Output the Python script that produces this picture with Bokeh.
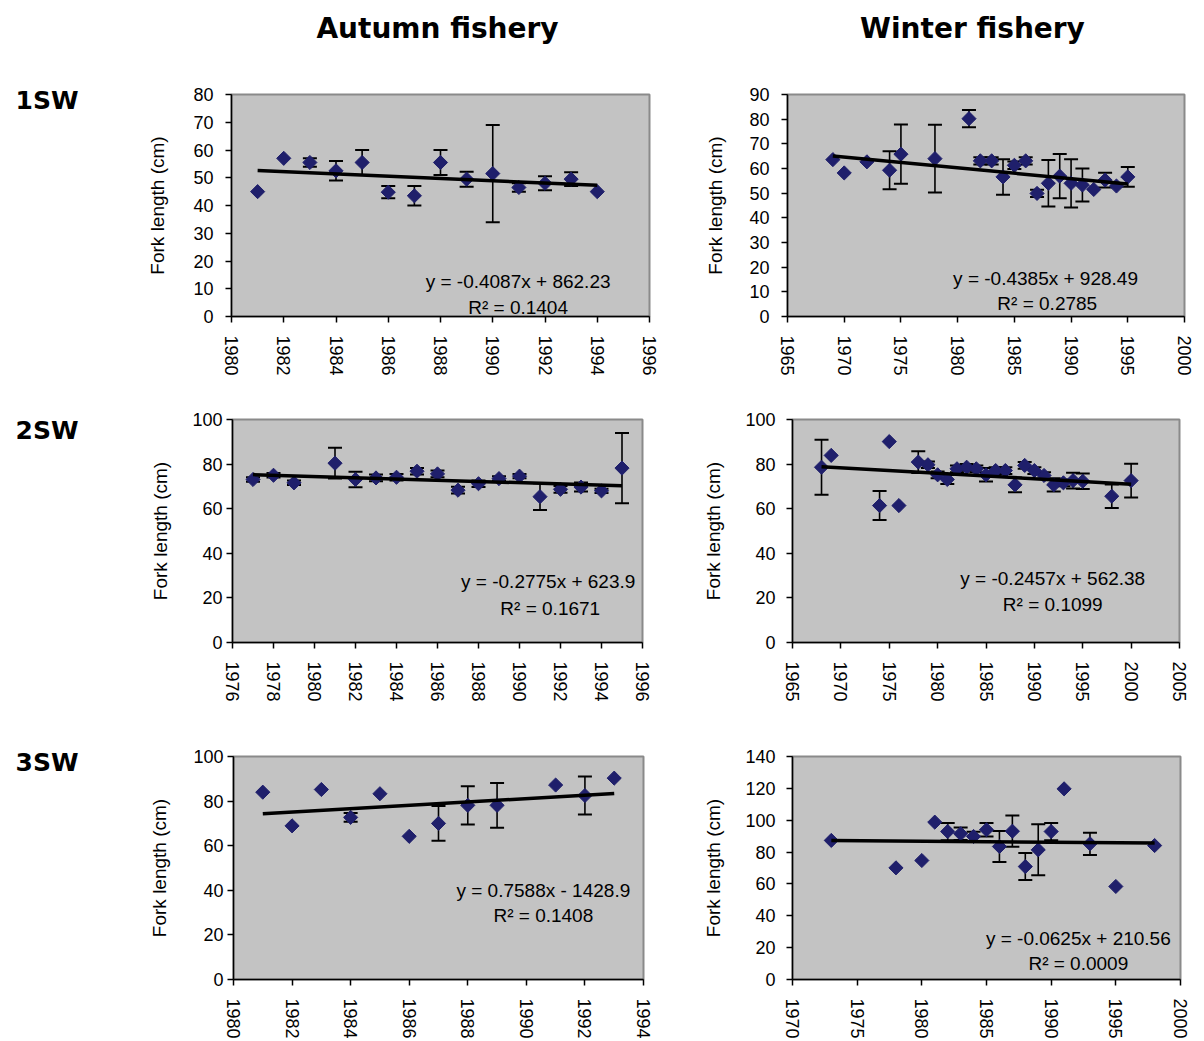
import math
from bokeh.plotting import figure
from bokeh.models import Range1d, Label, FixedTicker, ColumnDataSource
from bokeh.layouts import row, column
from bokeh.embed import file_html
from bokeh.resources import INLINE

# ---------------- data ----------------
col_titles = ["Autumn fishery", "Winter fishery"]
row_titles = ["1SW", "2SW", "3SW"]
y_axis_title = "Fork length (cm)"

# Autumn 1SW
years_a1 = [1981, 1982, 1983, 1984, 1985, 1986, 1987, 1988, 1989, 1990, 1991, 1992, 1993, 1994]
len_a1 = [45, 57, 55.5, 52.5, 55.5, 44.8, 43.5, 55.5, 49.5, 51.5, 46.5, 48, 49.5, 45]
err_a1 = [0, 0, 1.5, 3.5, 4.5, 2.2, 3.5, 4.5, 2.7, 17.5, 1.5, 2.5, 2.5, 0]
fit_a1 = (-0.4087, 862.23)
eq_a1 = ["y = -0.4087x + 862.23", "R\u00b2 = 0.1404"]
xt_a1 = [1980, 1982, 1984, 1986, 1988, 1990, 1992, 1994, 1996]
yt_a1 = [0, 10, 20, 30, 40, 50, 60, 70, 80]

# Winter 1SW
years_w1 = [1969, 1970, 1972, 1974, 1975, 1978, 1981, 1982, 1983, 1984, 1985, 1986, 1987,
            1988, 1989, 1990, 1991, 1992, 1993, 1994, 1995]
len_w1 = [63.6, 58.2, 62.7, 59.3, 65.8, 64.0, 80.2, 63.1, 63.1, 56.6, 61.3, 63.1, 49.9,
          54.0, 56.9, 54.0, 53.3, 51.5, 55.3, 52.9, 56.6]
err_w1 = [0, 0, 0, 7.7, 12, 13.7, 3.5, 1.5, 1.5, 7.2, 1.5, 1.5, 1.5,
          9.4, 9, 9.8, 6.7, 0, 3, 0, 4]
fit_w1 = (-0.4385, 928.49)
eq_w1 = ["y = -0.4385x + 928.49", "R\u00b2 = 0.2785"]
xt_w1 = [1965, 1970, 1975, 1980, 1985, 1990, 1995, 2000]
yt_w1 = [0, 10, 20, 30, 40, 50, 60, 70, 80, 90]

# Autumn 2SW
years_a2 = [1977, 1978, 1979, 1981, 1982, 1983, 1984, 1985, 1986, 1987, 1988, 1989, 1990,
            1991, 1992, 1993, 1994, 1995]
len_a2 = [73.1, 75.0, 71.6, 80.4, 73.1, 73.8, 74.1, 76.8, 75.6, 68.3, 71.2, 73.5, 74.6,
          65.4, 68.7, 69.7, 68.0, 78.2]
err_a2 = [1, 1, 1, 6.9, 3.5, 1.5, 1.5, 1.5, 1.5, 1.5, 1.5, 1, 1,
          6, 1.5, 2, 1, 15.8]
fit_a2 = (-0.2775, 623.9)
eq_a2 = ["y = -0.2775x + 623.9", "R\u00b2 = 0.1671"]
xt_a2 = [1976, 1978, 1980, 1982, 1984, 1986, 1988, 1990, 1992, 1994, 1996]
yt_a2 = [0, 20, 40, 60, 80, 100]

# Winter 2SW
years_w2 = [1968, 1969, 1974, 1975, 1976, 1978, 1979, 1980, 1981, 1982, 1983, 1984, 1985,
            1986, 1987, 1988, 1989, 1990, 1991, 1992, 1993, 1994, 1995, 1998, 2000]
len_w2 = [78.6, 83.9, 61.4, 90.1, 61.4, 80.9, 79.7, 75.2, 73.1, 77.9, 78.6, 77.9, 75.2,
          77.1, 77.1, 70.7, 79.4, 77.1, 74.9, 70.7, 71.6, 72.6, 72.3, 65.6, 72.6]
err_w2 = [12.3, 0, 6.5, 0, 0, 4.9, 1.5, 1.5, 2, 1.5, 1.5, 1.5, 3,
          1.5, 1.5, 3.3, 1.5, 1.5, 1.5, 3, 1.5, 3.5, 3.5, 5.3, 7.6]
fit_w2 = (-0.2457, 562.38)
eq_w2 = ["y = -0.2457x + 562.38", "R\u00b2 = 0.1099"]
xt_w2 = [1965, 1970, 1975, 1980, 1985, 1990, 1995, 2000, 2005]
yt_w2 = [0, 20, 40, 60, 80, 100]

# Autumn 3SW
years_a3 = [1981, 1982, 1983, 1984, 1985, 1986, 1987, 1988, 1989, 1991, 1992, 1993]
len_a3 = [84.0, 68.9, 85.2, 72.7, 83.3, 64.2, 70.0, 78.1, 78.1, 87.2, 82.5, 90.3]
err_a3 = [0, 0, 0, 2, 0, 0, 7.8, 8.6, 10, 0, 8.5, 0]
fit_a3 = (0.7588, -1428.9)
eq_a3 = ["y = 0.7588x - 1428.9", "R\u00b2 = 0.1408"]
xt_a3 = [1980, 1982, 1984, 1986, 1988, 1990, 1992, 1994]
yt_a3 = [0, 20, 40, 60, 80, 100]

# Winter 3SW
years_w3 = [1973, 1978, 1980, 1981, 1982, 1983, 1984, 1985, 1986, 1987, 1988, 1989, 1990,
            1991, 1993, 1995, 1998]
len_w3 = [87.3, 70.1, 74.7, 98.8, 92.9, 91.5, 89.8, 94.0, 83.5, 93.1, 70.9, 81.4, 92.9,
          119.7, 85.2, 58.4, 84.1]
err_w3 = [0, 0, 0, 0, 5.4, 3.9, 3, 4.3, 9.7, 9.8, 8.5, 16, 5.4,
          0, 7, 0, 0]
fit_w3 = (-0.0625, 210.56)
eq_w3 = ["y = -0.0625x + 210.56", "R\u00b2 = 0.0009"]
xt_w3 = [1970, 1975, 1980, 1985, 1990, 1995, 2000]
yt_w3 = [0, 20, 40, 60, 80, 100, 120, 140]

# ---------------- styling ----------------
FONT = "Liberation Sans"
NAVY = "#1f1f6b"
PLOT_BG = "#c3c3c3"


def panel(width, height, borders, xticks, yticks, years, lengths, errors, fit, eqs,
          eq_pos, r2_pos, ylab_standoff, yaxis_label_standoff):
    bl, br, bt, bb = borders
    p = figure(width=width, height=height,
               x_range=Range1d(xticks[0], xticks[-1]),
               y_range=Range1d(yticks[0], yticks[-1]),
               output_backend="svg", toolbar_location=None,
               min_border_left=bl, min_border_right=br,
               min_border_top=bt, min_border_bottom=bb,
               background_fill_color=PLOT_BG, border_fill_color="white",
               outline_line_color="#8a8a8a", outline_line_width=2)
    p.xgrid.visible = False
    p.ygrid.visible = False

    # error bars
    ex = [x for x, e in zip(years, errors) if e > 0]
    lo = [v - e for v, e in zip(lengths, errors) if e > 0]
    hi = [v + e for v, e in zip(lengths, errors) if e > 0]
    esrc = ColumnDataSource(dict(x=ex, lo=lo, hi=hi))
    p.segment(x0="x", y0="lo", x1="x", y1="hi", source=esrc,
              line_color="black", line_width=1.6)
    p.scatter(x="x", y="lo", source=esrc, marker="dash", size=14,
              line_color="black", line_width=2)
    p.scatter(x="x", y="hi", source=esrc, marker="dash", size=14,
              line_color="black", line_width=2)

    # points
    psrc = ColumnDataSource(dict(x=years, y=lengths))
    p.scatter(x="x", y="y", source=psrc, marker="square", angle=math.pi / 4,
              size=10, fill_color=NAVY, line_color=NAVY)

    # trend line
    x0, x1 = min(years), max(years)
    m, c = fit
    p.line([x0, x1], [m * x0 + c, m * x1 + c], line_color="black", line_width=3.5)

    # equation
    p.add_layout(Label(x=eq_pos[0], y=eq_pos[1], text=eqs[0], text_align="center",
                       text_baseline="middle", text_font=FONT,
                       text_font_size="19px", text_color="black"))
    p.add_layout(Label(x=r2_pos[0], y=r2_pos[1], text=eqs[1], text_align="center",
                       text_baseline="middle", text_font=FONT,
                       text_font_size="19px", text_color="black"))

    # axes
    p.xaxis.ticker = FixedTicker(ticks=xticks)
    p.yaxis.ticker = FixedTicker(ticks=yticks)
    for ax in (p.xaxis[0], p.yaxis[0]):
        ax.axis_line_color = "black"
        ax.axis_line_width = 1.5
        ax.major_tick_line_color = "black"
        ax.major_tick_line_width = 1.5
        ax.major_tick_out = 6
        ax.major_tick_in = 0
        ax.minor_tick_out = 0
        ax.minor_tick_in = 0
        ax.major_label_text_font = FONT
        ax.major_label_text_font_size = "18px"
        ax.major_label_text_color = "black"
    p.xaxis.major_label_orientation = -math.pi / 2
    p.xaxis.major_label_standoff = 13
    p.yaxis.major_label_standoff = ylab_standoff
    p.yaxis.axis_label = y_axis_title
    p.yaxis.axis_label_text_font = FONT
    p.yaxis.axis_label_text_font_style = "normal"
    p.yaxis.axis_label_text_font_size = "19px"
    p.yaxis.axis_label_text_color = "black"
    p.yaxis.axis_label_standoff = yaxis_label_standoff
    return p


p1 = panel(560, 325, (91, 51, 19, 79), xt_a1, yt_a1, years_a1, len_a1, err_a1, fit_a1, eq_a1,
           (1990.97, 12.7), (1990.97, 3.2), 12, 22)
p2 = panel(504, 325, (87, 20, 24, 78), xt_w1, yt_w1, years_w1, len_w1, err_w1, fit_w1, eq_w1,
           (1987.75, 15.3), (1987.9, 5.2), 12, 20)
p3 = panel(560, 330, (92, 58, 22, 80), xt_a2, yt_a2, years_a2, len_a2, err_a2, fit_a2, eq_a2,
           (1991.4, 27.2), (1991.5, 15.4), 4, 18)
p4 = panel(504, 330, (89, 25, 24, 83), xt_w2, yt_w2, years_w2, len_w2, err_w2, fit_w2, eq_w2,
           (1991.9, 28.7), (1991.9, 17.0), 11, 18)
p5 = panel(560, 316, (93, 57, 27, 62), xt_a3, yt_a3, years_a3, len_a3, err_a3, fit_a3, eq_a3,
           (1990.58, 40.1), (1990.58, 28.6), 4, 20)
p6 = panel(504, 316, (89, 24, 31, 62), xt_w3, yt_w3, years_w3, len_w3, err_w3, fit_w3, eq_w3,
           (1992.1, 25.7), (1992.1, 10.0), 11, 18)

# header with column titles (pixel-space figure)
hdr = figure(width=1204, height=70, x_range=Range1d(0, 1204), y_range=Range1d(70, 0),
             output_backend="svg", toolbar_location=None, min_border=0,
             x_axis_location=None, y_axis_location=None, outline_line_color=None)
hdr.grid.visible = False
for cx, t in zip([437, 972], col_titles):
    hdr.add_layout(Label(x=cx, y=28, text=t, text_align="center", text_baseline="middle",
                         text_font="DejaVu Sans", text_font_style="bold",
                         text_font_size="28px", text_color="black"))

# left column with row titles
side = figure(width=140, height=971, x_range=Range1d(0, 140), y_range=Range1d(971, 0),
              output_backend="svg", toolbar_location=None, min_border=0,
              x_axis_location=None, y_axis_location=None, outline_line_color=None)
side.grid.visible = False
for cy, t in zip([30, 360, 692], row_titles):
    side.add_layout(Label(x=15, y=cy, text=t, text_align="left", text_baseline="middle",
                          text_font="DejaVu Sans", text_font_style="bold",
                          text_font_size="25px", text_color="black"))

layout = column(hdr, row(side, column(row(p1, p2), row(p3, p4), row(p5, p6))))

open("out.html", "w").write(file_html(layout, INLINE))
